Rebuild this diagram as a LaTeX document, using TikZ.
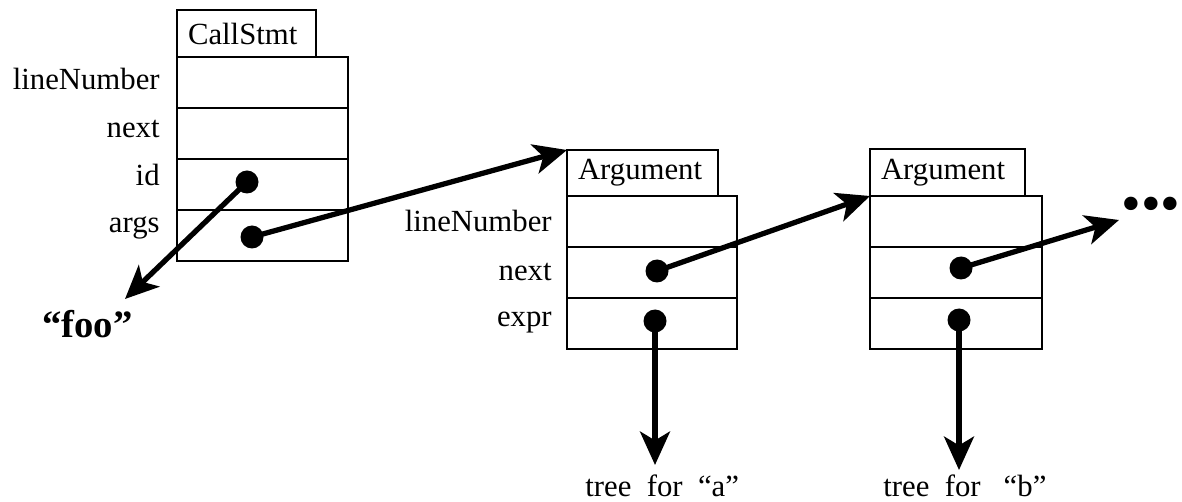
\documentclass[tikz,border=0pt]{standalone}
\usepackage{fontspec}
\setmainfont{Liberation Serif}
\usetikzlibrary{arrows.meta}
\begin{document}
\begin{tikzpicture}[x=0.02cm, y=-0.02cm,
  txt/.style={font=\fontsize{17.5pt}{21pt}\selectfont, inner sep=0pt},
  fieldname/.style={txt, anchor=base east},
  slot/.style={draw, line width=1.4pt, inner sep=0pt, outer sep=0pt, anchor=north west, minimum height=1.02cm},
  tab/.style={draw, line width=1.4pt, txt, inner xsep=0.22cm, inner ysep=0pt, outer sep=0pt, anchor=north west, align=left},
  ptr/.style={circle, fill=black, inner sep=0pt, minimum size=0.46cm},
  link/.style={line width=3pt, -{Stealth[length=19pt, width=17pt, inset=5pt]}},
]
\useasboundingbox (0,0) rectangle (1182,502);

% ---- CallStmt record ----
\node[tab, text width=2.34cm, minimum height=0.94cm] (cstab) at (177,10) {CallStmt};
\node[slot, minimum width=3.42cm] (cs1) at (177,57) {};
\node[slot, minimum width=3.42cm] (cs2) at (177,108) {};
\node[slot, minimum width=3.42cm] (cs3) at (177,159) {};
\node[slot, minimum width=3.42cm] (cs4) at (177,210) {};
\node[fieldname] (csl1) at (160,90) {lineNumber};
\node[fieldname] (csl2) at (160,138) {next};
\node[fieldname] (csl3) at (160,186) {id};
\node[fieldname] (csl4) at (160,233) {args};
\node[ptr] (csid) at (247,182) {};
\node[ptr] (csargs) at (252,237) {};

% ---- first Argument record ----
\node[tab, text width=2.58cm, minimum height=0.92cm] (a1tab) at (567,150) {Argument};
\node[slot, minimum width=3.40cm] (a1r1) at (567,196) {};
\node[slot, minimum width=3.40cm] (a1r2) at (567,247) {};
\node[slot, minimum width=3.40cm] (a1r3) at (567,298) {};
\node[fieldname] (a1l1) at (552,232) {lineNumber};
\node[fieldname] (a1l2) at (552,281) {next};
\node[fieldname] (a1l3) at (552,327) {expr};
\node[ptr] (a1next) at (657,271) {};
\node[ptr] (a1expr) at (655,321) {};

% ---- second Argument record ----
\node[tab, text width=2.66cm, minimum height=0.94cm] (a2tab) at (870,149) {Argument};
\node[slot, minimum width=3.44cm] (a2r1) at (870,196) {};
\node[slot, minimum width=3.44cm] (a2r2) at (870,247) {};
\node[slot, minimum width=3.44cm] (a2r3) at (870,298) {};
\node[ptr] (a2next) at (961,268) {};
\node[ptr] (a2expr) at (959,320) {};

% ---- targets outside the records ----
\node[font=\fontsize{22pt}{26pt}\selectfont\bfseries, inner sep=0pt, anchor=base west] (foo) at (42,338) {“foo”};
\coordinate (footip) at (125,299);
\node[font=\fontsize{32pt}{38pt}\selectfont, inner sep=0pt, anchor=east] (more) at (1181,210) {•••};
\coordinate (moretip) at (1119,220);
\node[txt, anchor=base west] (treeA) at (585,497) {tree~~for~~“a”};
\node[txt, anchor=base west] (treeB) at (883,497) {tree~~for~~~“b”};
\coordinate (tipA) at (655,465);
\coordinate (tipB) at (959,470);

% ---- pointers ----
\draw[link] (csid.center) -- (footip);
\draw[link] (csargs.center) -- (a1tab.north west);
\draw[link] (a1next.center) -- (a2r1.north west);
\draw[link] (a2next.center) -- (moretip);
\draw[link] (a1expr.center) -- (tipA);
\draw[link] (a2expr.center) -- (tipB);
\end{tikzpicture}
\end{document}
